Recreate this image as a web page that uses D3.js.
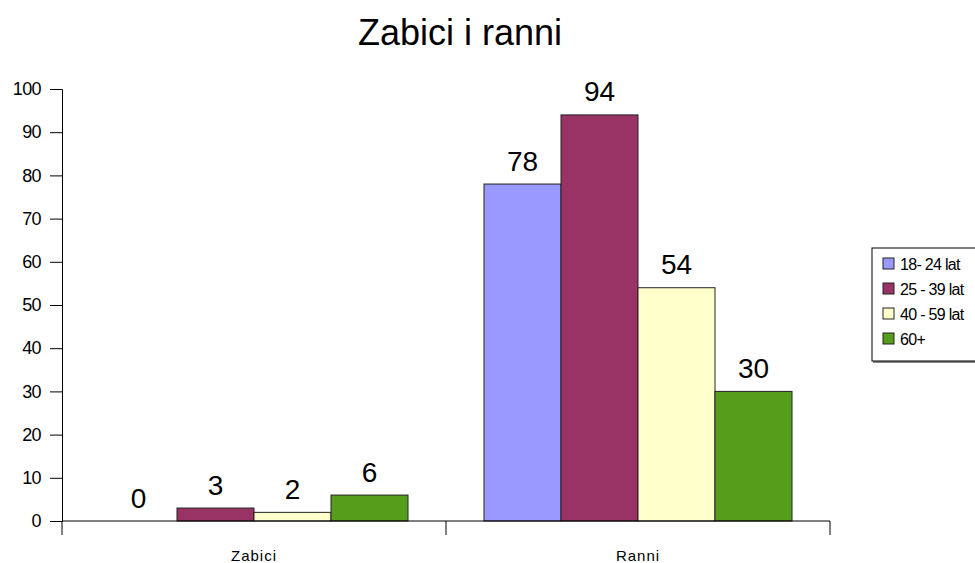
<!DOCTYPE html>
<html>
<head>
<meta charset="utf-8">
<script src="https://cdn.jsdelivr.net/npm/d3@7"></script>
<style>
  body { margin: 0; background: #fff; }
  svg { font-family: "Liberation Sans", Arial, sans-serif; }
</style>
</head>
<body>
<div id="chart"></div>
<script>
// data
const categories = ["Zabici", "Ranni"];
const series = ["18- 24 lat", "25 - 39 lat", "40 - 59 lat", "60+"];
const zabici = [0, 3, 2, 6];
const ranni = [78, 94, 54, 30];
const colors = ["#9999ff", "#993366", "#ffffcc", "#579d1c"];
const yTicks = [0, 10, 20, 30, 40, 50, 60, 70, 80, 90, 100];

const rows = [zabici, ranni];

const width = 975, height = 563;
const plot = { left: 62, right: 830, top: 89, bottom: 521 };

const svg = d3.select("#chart").append("svg")
  .attr("width", width)
  .attr("height", height);

// title
svg.append("text")
  .attr("x", 460)
  .attr("y", 45)
  .attr("text-anchor", "middle")
  .style("font-size", "36px")
  .text("Zabici i ranni");

const y = d3.scaleLinear().domain([0, 100]).range([plot.bottom, plot.top]);

const x0 = d3.scaleBand()
  .domain(categories)
  .range([plot.left, plot.right]);

const pad = 38;
const x1 = d3.scaleBand()
  .domain(series)
  .range([pad, x0.bandwidth() - pad]);

// y axis
const yAxis = svg.append("g")
  .attr("transform", `translate(${plot.left},0)`)
  .call(d3.axisLeft(y).tickValues(yTicks).tickSize(12).tickPadding(9));
yAxis.select(".domain").attr("stroke", "#000");
yAxis.selectAll(".tick line").attr("stroke", "#000");
yAxis.selectAll(".tick text")
  .style("font-size", "18px")
  .style("letter-spacing", "-0.6px")
  .attr("fill", "#000");

// bars
const groups = svg.append("g")
  .selectAll("g")
  .data(rows)
  .join("g")
  .attr("transform", (d, i) => `translate(${x0(categories[i])},0)`);

groups.selectAll("rect")
  .data(d => d.map((v, j) => ({ key: series[j], value: v, color: colors[j] })))
  .join("rect")
  .filter(d => d.value > 0)
  .attr("x", d => x1(d.key))
  .attr("y", d => y(d.value))
  .attr("width", x1.bandwidth())
  .attr("height", d => y(0) - y(d.value))
  .attr("fill", d => d.color)
  .attr("stroke", "#222")
  .attr("stroke-width", 1);

groups.selectAll("text.val")
  .data(d => d.map((v, j) => ({ key: series[j], value: v })))
  .join("text")
  .attr("class", "val")
  .attr("x", d => x1(d.key) + x1.bandwidth() / 2)
  .attr("y", d => y(d.value) - 13.5)
  .attr("text-anchor", "middle")
  .style("font-size", "28px")
  .text(d => d.value);

// x axis line and category ticks
svg.append("line")
  .attr("x1", plot.left).attr("x2", plot.right)
  .attr("y1", plot.bottom).attr("y2", plot.bottom)
  .attr("stroke", "#000");

const bounds = [plot.left, ...categories.map(c => x0(c) + x0.bandwidth())];
svg.append("g")
  .selectAll("line")
  .data(bounds)
  .join("line")
  .attr("x1", d => d).attr("x2", d => d)
  .attr("y1", plot.bottom).attr("y2", plot.bottom + 14)
  .attr("stroke", "#000");

svg.append("g")
  .selectAll("text")
  .data(categories)
  .join("text")
  .attr("x", d => x0(d) + x0.bandwidth() / 2)
  .attr("y", 561)
  .attr("text-anchor", "middle")
  .style("font-size", "15px")
  .style("letter-spacing", "1px")
  .text(d => d);

// legend
const legend = svg.append("g").attr("transform", "translate(872,248)");
legend.append("rect")
  .attr("x", 1).attr("y", 1)
  .attr("width", 120).attr("height", 114)
  .attr("fill", "#888");
legend.append("rect")
  .attr("x", 0).attr("y", 0)
  .attr("width", 120).attr("height", 113)
  .attr("fill", "#fff")
  .attr("stroke", "#000");

const items = legend.selectAll("g.item")
  .data(series)
  .join("g")
  .attr("class", "item")
  .attr("transform", (d, i) => `translate(0,${15.5 + i * 25})`);

items.append("rect")
  .attr("x", 11).attr("y", -5.5)
  .attr("width", 11).attr("height", 11)
  .attr("fill", (d, i) => colors[i])
  .attr("stroke", "#222");

items.append("text")
  .attr("x", 28)
  .attr("y", 6)
  .style("font-size", "16px")
  .style("letter-spacing", "-0.7px")
  .text(d => d);
</script>
</body>
</html>
